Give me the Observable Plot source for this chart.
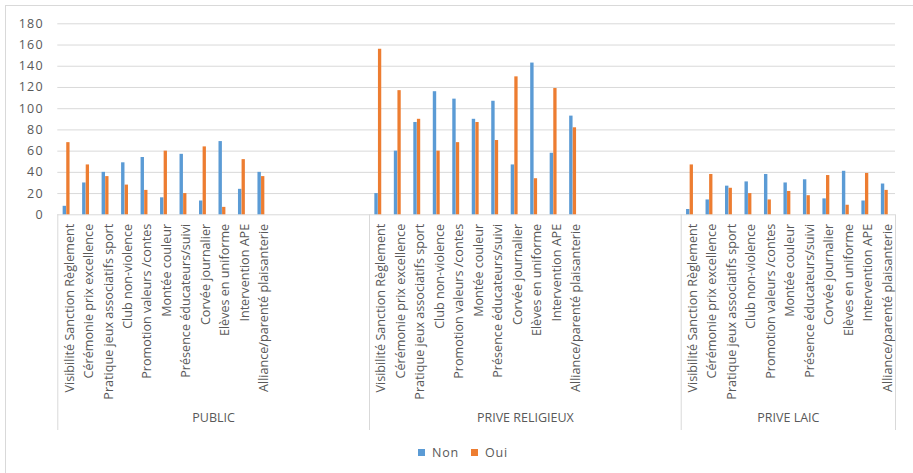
<!DOCTYPE html>
<html><head><meta charset="utf-8">
<script src="https://cdn.jsdelivr.net/npm/d3@7"></script>
<script src="https://cdn.jsdelivr.net/npm/@observablehq/plot@0.6"></script>
<style>
body{margin:0;background:#fff;font-family:"Open Sans",sans-serif;}
#wrap{position:relative;width:913px;height:473px;overflow:hidden;background:#fff;}
#frame{position:absolute;left:5px;top:5px;width:960px;height:520px;border-left:1px solid #d9d9d9;border-top:1px solid #d9d9d9;}
#chart{position:absolute;left:0;top:0;}
#chart g[aria-label^="y-axis"] text{font-size:12.5px;letter-spacing:1.2px;fill:#595959;}
#legend{position:absolute;top:443px;left:418px;font-size:12.5px;color:#595959;letter-spacing:0.8px;display:flex;align-items:center;height:18px;}
#legend span.sw{display:inline-block;width:7px;height:7px;margin-right:7px;}
#legend span.lab{margin-right:12px;}
</style></head>
<body>
<div id="wrap"><div id="frame"></div><div id="chart"></div>
<div id="legend"><span class="sw" style="background:#5B9BD5"></span><span class="lab">Non</span><span class="sw" style="background:#ED7D31"></span><span class="lab">Oui</span></div>
</div>
<script>
const groups = ["PUBLIC", "PRIVE RELIGIEUX", "PRIVE LAIC"];
const blanksAfter = [5, 5, 0];
const categories = [
  "Visibilité Sanction Règlement",
  "Cérémonie prix excellence",
  "Pratique jeux associatifs sport",
  "Club non-violence",
  "Promotion valeurs /contes",
  "Montée couleur",
  "Présence éducateurs/suivi",
  "Corvée journalier",
  "Elèves en uniforme",
  "Intervention APE",
  "Alliance/parenté plaisanterie"
];
const series = ["Non", "Oui"];
const nonPublic    = [8, 30, 40, 49, 54, 16, 57, 13, 69, 24, 40];
const ouiPublic    = [68, 47, 36, 28, 23, 60, 20, 64, 7, 52, 36];
const nonReligieux = [20, 60, 87, 116, 109, 90, 107, 47, 143, 58, 93];
const ouiReligieux = [156, 117, 90, 60, 68, 87, 70, 130, 34, 119, 82];
const nonLaic      = [5, 14, 27, 31, 38, 30, 33, 15, 41, 13, 29];
const ouiLaic      = [47, 38, 25, 20, 14, 22, 18, 37, 9, 39, 23];
const yTicks = [0, 20, 40, 60, 80, 100, 120, 140, 160, 180];

const valuesByGroup = [[nonPublic, ouiPublic], [nonReligieux, ouiReligieux], [nonLaic, ouiLaic]];
const colors = {Non: "#5B9BD5", Oui: "#ED7D31"};

// build slots
const keys = [];
const labelOf = {};
const groupSlots = [];
groups.forEach((g, gi) => {
  const start = keys.length;
  categories.forEach(c => { const k = g + "|" + c; keys.push(k); labelOf[k] = c; });
  for (let i = 0; i < blanksAfter[gi]; i++) { const k = g + "|_" + i; keys.push(k); labelOf[k] = ""; }
  groupSlots.push({name: g, start, n: keys.length - start});
});
const rows = [];
groups.forEach((g, gi) => {
  series.forEach((s, si) => {
    categories.forEach((c, ci) => rows.push({key: g + "|" + c, series: s, value: valuesByGroup[gi][si][ci]}));
  });
});
const tickRows = keys.filter(k => labelOf[k] !== "").map(k => ({key: k, label: labelOf[k]}));

const W = 913, H = 440, ML = 57.3, MR = 18, MT = 23.3, MB = H - 214.3;
const bw = (W - ML - MR) / keys.length;
const plotH = H - MT - MB;
const sepDepth = 430 - 214.3;

const marks = [
  Plot.ruleY(yTicks, {stroke: "#d9d9d9", strokeWidth: 1}),
  Plot.barY(rows.filter(d => d.series === "Non"), {x: "key", y: "value", fill: colors.Non,
    insetLeft: bw / 2 - 4.4, insetRight: bw / 2 + 1.0}),
  Plot.barY(rows.filter(d => d.series === "Oui"), {x: "key", y: "value", fill: colors.Oui,
    insetLeft: bw / 2 - 0.8, insetRight: bw / 2 - 2.5}),
  Plot.ruleX(groupSlots.map(g => keys[g.start]), {x: d => d, dx: -bw / 2, stroke: "#d9d9d9",
    insetTop: plotH, insetBottom: -sepDepth}),
  Plot.ruleX([keys[keys.length - 1]], {x: d => d, dx: bw / 2, stroke: "#d9d9d9",
    insetTop: plotH, insetBottom: -sepDepth}),
  Plot.text(tickRows, {x: "key", text: "label", rotate: -90, textAnchor: "end", frameAnchor: "bottom",
    dy: 9, dx: 6, fontSize: 12.6, fill: "#595959", fontFamily: "Open Sans"})
];
groupSlots.forEach(g => {
  const mid = g.start + g.n / 2;
  const idx = Math.floor(mid);
  marks.push(Plot.text([g.name], {x: () => keys[idx], text: d => d, frameAnchor: "bottom",
    dx: (mid - idx - 0.5) * bw, dy: 421 - 214.3, fontSize: 12.5, fill: "#595959",
    fontFamily: "Open Sans", textAnchor: "middle", style: {letterSpacing: "1px"}}));
});

const chart = Plot.plot({
  width: W, height: H,
  marginLeft: ML, marginRight: MR, marginTop: MT, marginBottom: MB,
  style: {fontFamily: "Open Sans", color: "#595959", background: "transparent", overflow: "visible"},
  x: {type: "band", domain: keys, padding: 0, round: false, axis: null},
  y: {domain: [0, 180], ticks: yTicks, tickSize: 0, tickPadding: 14, label: null},
  marks
});
document.getElementById("chart").appendChild(chart);
</script>
</body></html>
